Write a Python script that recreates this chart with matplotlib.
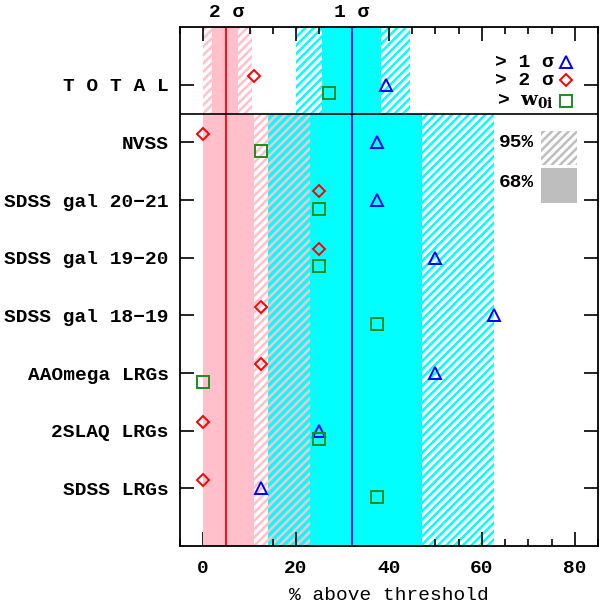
import matplotlib
matplotlib.use("Agg")
import matplotlib.pyplot as plt
import numpy as np

# samples, bottom to top (TOTAL row sits above the divider)
samples = ["SDSS LRGs", "2SLAQ LRGs", "AAOmega LRGs", "SDSS gal 18\u221219",
           "SDSS gal 19\u221220", "SDSS gal 20\u221221", "NVSS"]
total_label = "T O T A L"

# % of sub-samples above threshold
gt_1sig = [12.5, 25.0, 50.0, 62.5, 50.0, 37.5, 37.5]
gt_2sig = [0.0, 0.0, 12.5, 12.5, 25.0, 25.0, 0.0]
gt_w0i = [37.5, 25.0, 0.0, 37.5, 25.0, 25.0, 12.5]
tot_1sig, tot_2sig, tot_w0i = 39.4, 10.9, 27.1

# expected fractions and 68/95% ranges (per sample / for the total)
exp_2sig, exp_1sig = 5.0, 32.0
samp_2sig_68, samp_2sig_95 = (0.0, 11.0), (0.0, 23.0)
samp_1sig_68, samp_1sig_95 = (23.0, 47.0), (14.0, 62.5)
tot_2sig_68, tot_2sig_95 = (1.9, 7.4), (0.0, 10.4)
tot_1sig_68, tot_1sig_95 = (25.5, 38.2), (20.0, 44.5)

PINK, CYAN, GRAY = "#FFC0CB", "#00FFFF", "#BEBEBE"
RED, BLUE, GREEN = "#FF0000", "#0000FF", "#1E8C1E"

plt.rcParams["font.family"] = ["Liberation Mono", "DejaVu Sans"]
plt.rcParams["font.weight"] = "bold"
plt.rcParams["font.size"] = 14
plt.rcParams["hatch.linewidth"] = 1.8
plt.rcParams["mathtext.fontset"] = "dejavuserif"

fig = plt.figure(figsize=(6.0, 6.07), dpi=100)
ax = fig.add_axes([0.30, 0.1005, 0.6967, 0.855])

ys = np.arange(1, len(samples) + 1)
y_div = len(samples) + 0.5
y_tot = len(samples) + 1
y_top = len(samples) + 2
HATCH = "////"


def hatch(lo, hi, y0, y1, col, face="none"):
    ax.fill_betweenx([y0, y1], lo, hi, facecolor=face, edgecolor=col,
                     hatch=HATCH, linewidth=0, zorder=1)


def solid(lo, hi, y0, y1, col):
    ax.fill_betweenx([y0, y1], lo, hi, facecolor=col, linewidth=0, zorder=2)


# lower panel bands
hatch(*samp_2sig_95, 0, y_div, PINK)
hatch(*samp_1sig_95, 0, y_div, CYAN)
ov = (max(samp_2sig_95[0], samp_1sig_95[0]), min(samp_2sig_95[1], samp_1sig_95[1]))
hatch(*ov, 0, y_div, PINK, face=CYAN)
solid(*samp_2sig_68, 0, y_div, PINK)
solid(*samp_1sig_68, 0, y_div, CYAN)

# upper panel bands
hatch(*tot_2sig_95, y_div, y_top, PINK)
hatch(*tot_1sig_95, y_div, y_top, CYAN)
solid(*tot_2sig_68, y_div, y_top, PINK)
solid(*tot_1sig_68, y_div, y_top, CYAN)

ax.axvline(exp_2sig, color=RED, lw=1.3, zorder=3)
ax.axvline(exp_1sig, color=BLUE, lw=1.3, zorder=3)
ax.axhline(y_div, color="black", lw=1.2, zorder=3)

dy = 0.15
mk = dict(linestyle="none", mfc="none", mew=1.4, zorder=5)
ax.plot(gt_1sig, ys, marker="^", ms=9, mec=BLUE, **mk)
ax.plot(gt_2sig, ys + dy, marker="D", ms=6.5, mec=RED, **mk)
ax.plot(gt_w0i, ys - dy, marker="s", ms=9, mec=GREEN, **mk)
ax.plot([tot_1sig], [y_tot], marker="^", ms=9, mec=BLUE, **mk)
ax.plot([tot_2sig], [y_tot + dy], marker="D", ms=6.5, mec=RED, **mk)
ax.plot([tot_w0i], [y_tot - dy], marker="s", ms=9, mec=GREEN, **mk)

ax.set_xlim(-5, 85)
ax.set_ylim(0, y_top)
ax.set_xticks([0, 20, 40, 60, 80])
ax.set_xticks(np.arange(-5, 86, 5), minor=True)
ax.set_yticks(list(ys) + [y_tot])
ax.set_yticklabels(samples + [total_label])
ax.tick_params(axis="both", which="both", direction="in", top=True, right=True)
ax.tick_params(axis="x", which="major", length=10, width=1.2, pad=10)
ax.tick_params(axis="x", which="minor", length=5, width=1.2)
ax.tick_params(axis="y", which="major", length=10, width=1.2, pad=8)
ax.tick_params(axis="y", which="minor", left=False, right=False)
for s in ax.spines.values():
    s.set_linewidth(1.3)
    s.set_zorder(6)
ax.set_xlabel("% above threshold", labelpad=7)

# sigma labels above the frame
ax.text(exp_2sig, y_top + 0.1, "2 \u03c3", ha="center", va="bottom")
ax.text(exp_1sig, y_top + 0.1, "1 \u03c3", ha="center", va="bottom")

# symbol key (upper panel)
ax.text(75.4, 8.39, "> 1 \u03c3", ha="right", va="center", zorder=7)
ax.text(75.4, 8.08, "> 2 \u03c3", ha="right", va="center", zorder=7)
ax.text(75.4, 7.72, r"> $\mathbf{w}_{\mathbf{0i}}$", ha="right", va="center", zorder=7)
ax.plot([78.1], [8.39], marker="^", ms=9, mec=BLUE, **mk)
ax.plot([78.1], [8.08], marker="D", ms=6.5, mec=RED, **mk)
ax.plot([78.1], [7.72], marker="s", ms=9, mec=GREEN, **mk)

# band key (lower panel)
ax.fill_betweenx([6.61, 7.2], 72.8, 80.5, facecolor="white", edgecolor=GRAY,
                 hatch=HATCH, linewidth=0, zorder=7)
ax.fill_betweenx([5.95, 6.56], 72.8, 80.5, facecolor=GRAY, linewidth=0, zorder=7)
ax.text(71.2, 6.99, "95%", ha="right", va="center", zorder=7)
ax.text(71.2, 6.30, "68%", ha="right", va="center", zorder=7)

fig.savefig("out.png", dpi=100)
